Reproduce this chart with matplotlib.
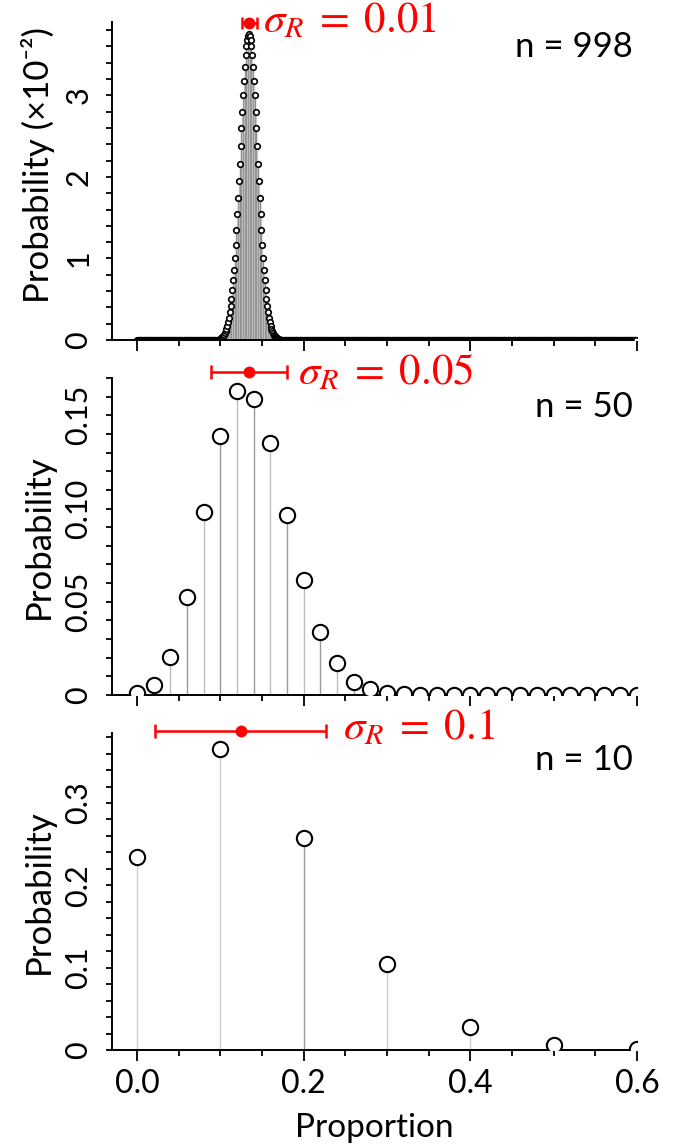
import numpy as np
import matplotlib
matplotlib.use("Agg")
import matplotlib.pyplot as plt
from matplotlib.ticker import MultipleLocator

plt.rcParams['font.family'] = ['Lato', 'DejaVu Sans']
plt.rcParams['mathtext.fontset'] = 'stix'

# n = 998, values in units of 1e-2, k = 100..170 (zero elsewhere up to k = 598)
n_big = 998
k_big_start = 100
k_big_stop = 599
p_big_peak = [0.020, 0.027, 0.036, 0.048, 0.063, 0.082, 0.106, 0.137, 0.174, 0.219,
              0.273, 0.339, 0.415, 0.505, 0.61, 0.73, 0.86, 1.01, 1.17, 1.35,
              1.54, 1.74, 1.95, 2.16, 2.38, 2.60, 2.80, 3.00, 3.18, 3.35,
              3.49, 3.60, 3.68, 3.73, 3.75, 3.73, 3.68, 3.60, 3.49, 3.35,
              3.18, 3.00, 2.80, 2.60, 2.38, 2.16, 1.95, 1.74, 1.54, 1.35,
              1.17, 1.01, 0.86, 0.73, 0.61, 0.505, 0.415, 0.339, 0.273, 0.219,
              0.174, 0.137, 0.106, 0.082, 0.063, 0.048, 0.036, 0.027, 0.020, 0.014,
              0.010]

# n = 50, proportions 0, 0.02, ..., 0.60
n_mid = 50
p_mid = [0.001, 0.0054, 0.0204, 0.0527, 0.0984, 0.139, 0.163, 0.159, 0.135, 0.0963,
         0.0615, 0.034, 0.0174, 0.0072, 0.003, 0.001, 0.0003, 0.0001, 0, 0,
         0, 0, 0, 0, 0, 0, 0, 0, 0, 0, 0]

# n = 10, proportions 0, 0.1, ..., 0.6
n_small = 10
p_small = [0.235, 0.366, 0.258, 0.105, 0.028, 0.006, 0.001]

# red mean +/- sigma markers: (center, half width, y)
err_big = (0.1345, 0.009, 3.887)
err_mid = (0.1345, 0.0455, 0.1731)
err_small = (0.1245, 0.1025, 0.387)

x_big = np.arange(0, k_big_stop) / n_big
y_big = np.concatenate([np.zeros(k_big_start), p_big_peak,
                        np.zeros(k_big_stop - k_big_start - len(p_big_peak))])
x_mid = np.arange(len(p_mid)) / n_mid
x_small = np.arange(len(p_small)) / n_small

W, H = 673, 1148
fig = plt.figure(figsize=(W / 100, H / 100), dpi=100)

def px_axes(top, bottom):
    left, right = 112, 637
    return fig.add_axes([left / W, 1 - bottom / H, (right - left) / W, (bottom - top) / H])

ax1 = px_axes(22, 340)
ax2 = px_axes(378, 695)
ax3 = px_axes(733, 1050)

def style(ax, ymax, yticks, ylabels, yminor, xlabels):
    ax.set_xlim(-0.03, 0.6)
    ax.set_ylim(0, ymax)
    for s in ['top', 'right']:
        ax.spines[s].set_visible(False)
    for s in ['left', 'bottom']:
        ax.spines[s].set_linewidth(1.4)
    ax.xaxis.set_major_locator(MultipleLocator(0.2))
    ax.xaxis.set_minor_locator(MultipleLocator(0.05))
    ax.set_yticks(yticks)
    ax.set_yticklabels(ylabels)
    ax.yaxis.set_minor_locator(MultipleLocator(yminor))
    ax.tick_params(axis='x', which='major', direction='out', length=8, width=1.3)
    ax.tick_params(axis='x', which='minor', direction='out', length=4.5, width=1.3)
    ax.tick_params(axis='y', which='both', direction='out', length=4, width=1.3)
    ax.tick_params(axis='y', labelsize=22, pad=10)
    ax.tick_params(axis='x', labelsize=23, pad=6, labelbottom=xlabels)
    for lab in ax.get_yticklabels():
        lab.set_rotation(90)
        lab.set_va('center')

def stems(ax, x, y, colors, lw, ms, mew):
    ax.vlines(x, 0, y, colors=colors, linewidth=lw, zorder=2)
    ax.plot(x, y, 'o', ms=ms, mfc='white', mec='black', mew=mew, zorder=3)

def sigma(ax, err, label, tx, ty, cap):
    c, hw, yv = err
    ax.errorbar([c], [yv], xerr=[hw], fmt='o', color='red', ms=7.5, capsize=cap,
                elinewidth=1.8, capthick=1.8, clip_on=False, zorder=5)
    fig.text(tx / W, 1 - ty / H, label, color='red', fontsize=31, va='center', ha='left')

label_x = -0.108

# top panel
big_colors = ['#8a8a8a' if i % 2 else '#c8c8c8' for i in range(len(x_big))]
stems(ax1, x_big, y_big, big_colors, 1.0, 4, 1.2)
style(ax1, 3.9, [0, 1, 2, 3], ['0', '1', '2', '3'], 0.2, False)
ax1.set_ylabel('Probability (×10⁻²)', fontsize=25)
ax1.yaxis.set_label_coords(label_x, 0.55)
sigma(ax1, err_big, r'$\sigma_R\;=\;0.01$', 263, 20, 4)
fig.text(633 / W, 1 - 47 / H, 'n = 998', fontsize=25, ha='right', va='center')

# middle panel
mid_colors = ['#9a9a9a' if i % 2 else '#bdbdbd' for i in range(len(x_mid))]
stems(ax2, x_mid, p_mid, mid_colors, 1.0, 11, 1.5)
style(ax2, 0.17, [0, 0.05, 0.10, 0.15], ['0', '0.05', '0.10', '0.15'], 0.01, False)
ax2.set_ylabel('Probability', fontsize=25)
ax2.yaxis.set_label_coords(label_x, 0.5)
sigma(ax2, err_mid, r'$\sigma_R\;=\;0.05$', 298, 372, 5)
fig.text(633 / W, 1 - 407 / H, 'n = 50', fontsize=25, ha='right', va='center')

# bottom panel
small_colors = ['#cfcfcf', '#cfcfcf', '#9a9a9a', '#cfcfcf', '#cfcfcf', '#9a9a9a', '#cfcfcf']
stems(ax3, x_small, p_small, small_colors, 1.0, 11, 1.5)
style(ax3, 0.385, [0, 0.1, 0.2, 0.3], ['0', '0.1', '0.2', '0.3'], 0.02, True)
ax3.set_xticks([0, 0.2, 0.4, 0.6])
ax3.set_xticklabels(['0.0', '0.2', '0.4', '0.6'])
ax3.set_ylabel('Probability', fontsize=25)
ax3.yaxis.set_label_coords(label_x, 0.5)
ax3.set_xlabel('Proportion', fontsize=24, labelpad=10)
sigma(ax3, err_small, r'$\sigma_R\;=\;0.1$', 343, 727, 5)
fig.text(633 / W, 1 - 760 / H, 'n = 10', fontsize=25, ha='right', va='center')

fig.savefig('out.png', dpi=100)
